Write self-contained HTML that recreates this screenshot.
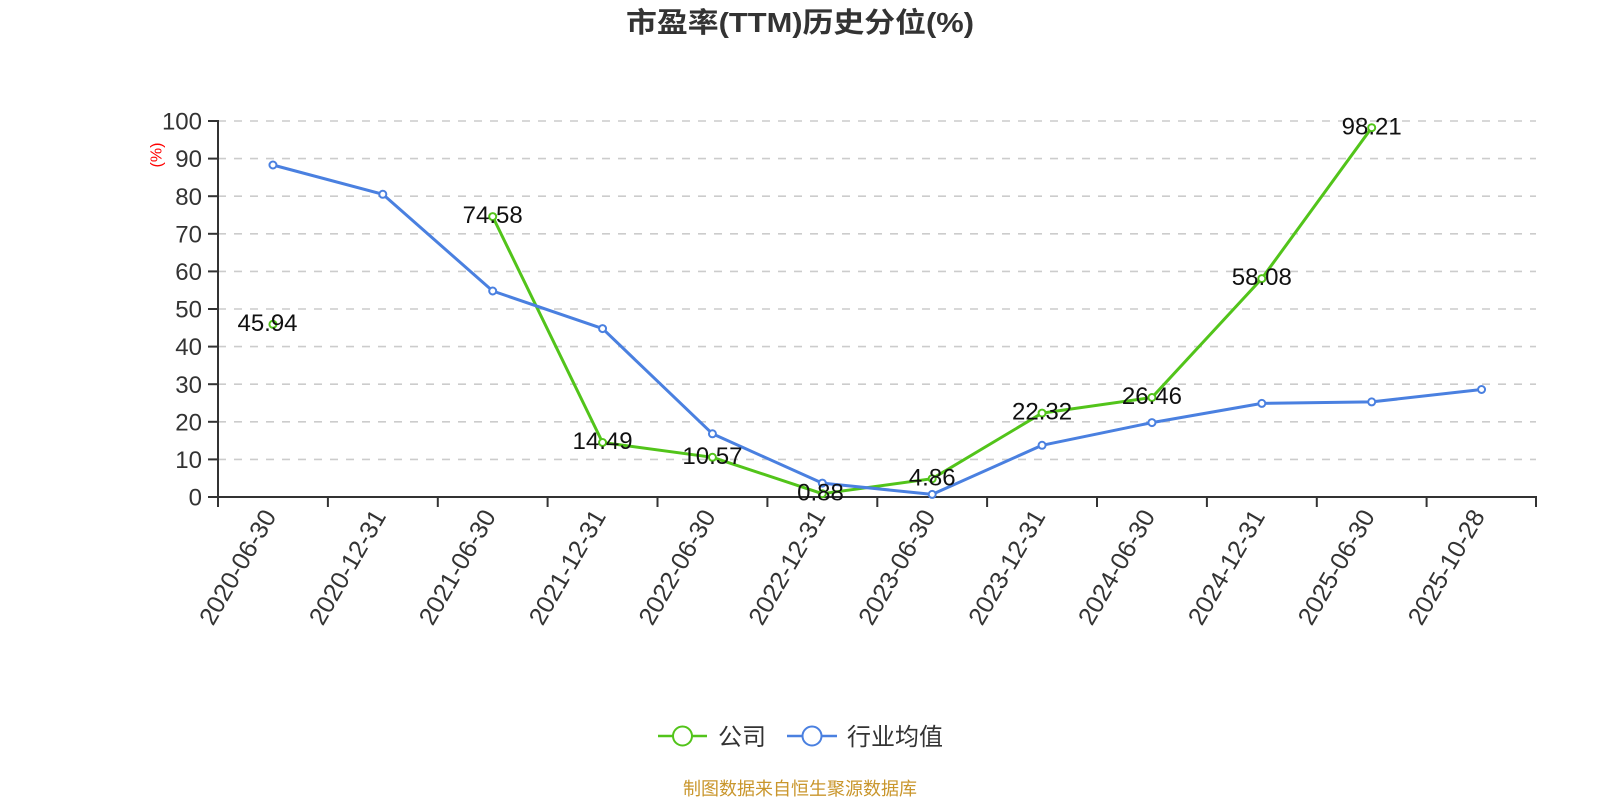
<!DOCTYPE html>
<html>
<head>
<meta charset="utf-8">
<style>
  html,body{margin:0;padding:0;background:#fff;}
  svg{display:block;}
  text{font-family:"Liberation Sans","Noto Sans CJK SC",sans-serif;}
</style>
</head>
<body>
<svg width="1600" height="800" viewBox="0 0 1600 800" xmlns="http://www.w3.org/2000/svg">
  <rect x="0" y="0" width="1600" height="800" fill="#fff"/>

  <!-- Title -->
  <text x="800" y="32" text-anchor="middle" font-size="28" font-weight="bold" fill="#333" textLength="348" lengthAdjust="spacingAndGlyphs">市盈率(TTM)历史分位(%)</text>

  <!-- Grid lines -->
  <g stroke="#cccccc" stroke-width="1.6" stroke-dasharray="8 8" fill="none">
    <line x1="218" y1="459.4" x2="1536" y2="459.4"/>
    <line x1="218" y1="421.8" x2="1536" y2="421.8"/>
    <line x1="218" y1="384.2" x2="1536" y2="384.2"/>
    <line x1="218" y1="346.6" x2="1536" y2="346.6"/>
    <line x1="218" y1="309" x2="1536" y2="309"/>
    <line x1="218" y1="271.4" x2="1536" y2="271.4"/>
    <line x1="218" y1="233.8" x2="1536" y2="233.8"/>
    <line x1="218" y1="196.2" x2="1536" y2="196.2"/>
    <line x1="218" y1="158.6" x2="1536" y2="158.6"/>
    <line x1="218" y1="121" x2="1536" y2="121"/>
  </g>

  <!-- Y axis -->
  <g stroke="#333" stroke-width="2" fill="none">
    <line x1="218" y1="120" x2="218" y2="498"/>
    <line x1="208" y1="497" x2="218" y2="497"/>
    <line x1="208" y1="459.4" x2="218" y2="459.4"/>
    <line x1="208" y1="421.8" x2="218" y2="421.8"/>
    <line x1="208" y1="384.2" x2="218" y2="384.2"/>
    <line x1="208" y1="346.6" x2="218" y2="346.6"/>
    <line x1="208" y1="309" x2="218" y2="309"/>
    <line x1="208" y1="271.4" x2="218" y2="271.4"/>
    <line x1="208" y1="233.8" x2="218" y2="233.8"/>
    <line x1="208" y1="196.2" x2="218" y2="196.2"/>
    <line x1="208" y1="158.6" x2="218" y2="158.6"/>
    <line x1="208" y1="121" x2="218" y2="121"/>
  </g>
  <g font-size="24" fill="#333" text-anchor="end">
    <text x="202" y="505.6">0</text>
    <text x="202" y="468">10</text>
    <text x="202" y="430.4">20</text>
    <text x="202" y="392.8">30</text>
    <text x="202" y="355.2">40</text>
    <text x="202" y="317.6">50</text>
    <text x="202" y="280">60</text>
    <text x="202" y="242.4">70</text>
    <text x="202" y="204.8">80</text>
    <text x="202" y="167.2">90</text>
    <text x="202" y="129.6">100</text>
  </g>
  <text x="157" y="155" font-size="16" fill="#ff0000" text-anchor="middle" dominant-baseline="central" transform="rotate(-90 157 155)">(%)</text>

  <!-- X axis -->
  <g stroke="#333" stroke-width="2" fill="none">
    <line x1="217" y1="497" x2="1537" y2="497"/>
    <line x1="218" y1="497" x2="218" y2="507"/>
    <line x1="327.9" y1="497" x2="327.9" y2="507"/>
    <line x1="437.8" y1="497" x2="437.8" y2="507"/>
    <line x1="547.6" y1="497" x2="547.6" y2="507"/>
    <line x1="657.5" y1="497" x2="657.5" y2="507"/>
    <line x1="767.4" y1="497" x2="767.4" y2="507"/>
    <line x1="877.3" y1="497" x2="877.3" y2="507"/>
    <line x1="987.1" y1="497" x2="987.1" y2="507"/>
    <line x1="1097" y1="497" x2="1097" y2="507"/>
    <line x1="1206.9" y1="497" x2="1206.9" y2="507"/>
    <line x1="1316.8" y1="497" x2="1316.8" y2="507"/>
    <line x1="1426.6" y1="497" x2="1426.6" y2="507"/>
    <line x1="1536" y1="497" x2="1536" y2="507"/>
  </g>
  <g font-size="25" fill="#333" text-anchor="end" dominant-baseline="central">
    <text x="270" y="512" transform="rotate(-60 270 512)">2020-06-30</text>
    <text x="379.8" y="512" transform="rotate(-60 379.8 512)">2020-12-31</text>
    <text x="489.7" y="512" transform="rotate(-60 489.7 512)">2021-06-30</text>
    <text x="599.6" y="512" transform="rotate(-60 599.6 512)">2021-12-31</text>
    <text x="709.4" y="512" transform="rotate(-60 709.4 512)">2022-06-30</text>
    <text x="819.3" y="512" transform="rotate(-60 819.3 512)">2022-12-31</text>
    <text x="929.2" y="512" transform="rotate(-60 929.2 512)">2023-06-30</text>
    <text x="1039.1" y="512" transform="rotate(-60 1039.1 512)">2023-12-31</text>
    <text x="1148.9" y="512" transform="rotate(-60 1148.9 512)">2024-06-30</text>
    <text x="1258.8" y="512" transform="rotate(-60 1258.8 512)">2024-12-31</text>
    <text x="1368.7" y="512" transform="rotate(-60 1368.7 512)">2025-06-30</text>
    <text x="1478.6" y="512" transform="rotate(-60 1478.6 512)">2025-10-28</text>
  </g>

  <!-- Green series (公司) -->
  <polyline fill="none" stroke="#52c41a" stroke-width="3" stroke-linejoin="round"
    points="492.69,216.6 602.56,442.5 712.44,457.3 822.31,493.7 932.19,478.7 1042.06,413.1 1151.94,397.5 1261.81,278.6 1371.69,127.7"/>

  <!-- Blue series (行业均值) -->
  <polyline fill="none" stroke="#4a80e0" stroke-width="3" stroke-linejoin="round"
    points="272.94,165.0 382.81,194.3 492.69,291.0 602.56,328.6 712.44,433.8 822.31,483.1 932.19,494.4 1042.06,445.3 1151.94,422.6 1261.81,403.4 1371.69,401.9 1481.56,389.5"/>

  <!-- Green symbols -->
  <g fill="#fff" stroke="#52c41a" stroke-width="2">
    <circle cx="272.94" cy="324.3" r="3.5"/>
    <circle cx="492.69" cy="216.6" r="3.5"/>
    <circle cx="602.56" cy="442.5" r="3.5"/>
    <circle cx="712.44" cy="457.3" r="3.5"/>
    <circle cx="822.31" cy="493.7" r="3.5"/>
    <circle cx="932.19" cy="478.7" r="3.5"/>
    <circle cx="1042.06" cy="413.1" r="3.5"/>
    <circle cx="1151.94" cy="397.5" r="3.5"/>
    <circle cx="1261.81" cy="278.6" r="3.5"/>
    <circle cx="1371.69" cy="127.7" r="3.5"/>
  </g>

  <!-- Blue symbols -->
  <g fill="#fff" stroke="#4a80e0" stroke-width="2">
    <circle cx="272.94" cy="165.0" r="3.5"/>
    <circle cx="382.81" cy="194.3" r="3.5"/>
    <circle cx="492.69" cy="291.0" r="3.5"/>
    <circle cx="602.56" cy="328.6" r="3.5"/>
    <circle cx="712.44" cy="433.8" r="3.5"/>
    <circle cx="822.31" cy="483.1" r="3.5"/>
    <circle cx="932.19" cy="494.4" r="3.5"/>
    <circle cx="1042.06" cy="445.3" r="3.5"/>
    <circle cx="1151.94" cy="422.6" r="3.5"/>
    <circle cx="1261.81" cy="403.4" r="3.5"/>
    <circle cx="1371.69" cy="401.9" r="3.5"/>
    <circle cx="1481.56" cy="389.5" r="3.5"/>
  </g>

  <!-- Green labels -->
  <g font-size="24" fill="#111" text-anchor="middle">
    <text x="267.5" y="330.9">45.94</text>
    <text x="492.69" y="223.2">74.58</text>
    <text x="602.56" y="449.1">14.49</text>
    <text x="712.44" y="463.9">10.57</text>
    <text x="820.5" y="500.3">0.88</text>
    <text x="932.19" y="485.3">4.86</text>
    <text x="1042.06" y="419.7">22.32</text>
    <text x="1151.94" y="404.1">26.46</text>
    <text x="1261.81" y="285.2">58.08</text>
    <text x="1371.69" y="134.3">98.21</text>
  </g>

  <!-- Legend -->
  <line x1="658" y1="736" x2="707" y2="736" stroke="#52c41a" stroke-width="2.5"/>
  <circle cx="682.5" cy="736" r="9.5" fill="#fff" stroke="#52c41a" stroke-width="2"/>
  <text x="718" y="745" font-size="24" fill="#333">公司</text>

  <line x1="787" y1="736" x2="837" y2="736" stroke="#4a80e0" stroke-width="2.5"/>
  <circle cx="812" cy="736" r="9.5" fill="#fff" stroke="#4a80e0" stroke-width="2"/>
  <text x="847" y="745" font-size="24" fill="#333">行业均值</text>

  <!-- Footer -->
  <text x="800" y="795" font-size="18" fill="#c9962c" text-anchor="middle">制图数据来自恒生聚源数据库</text>
</svg>
</body>
</html>
